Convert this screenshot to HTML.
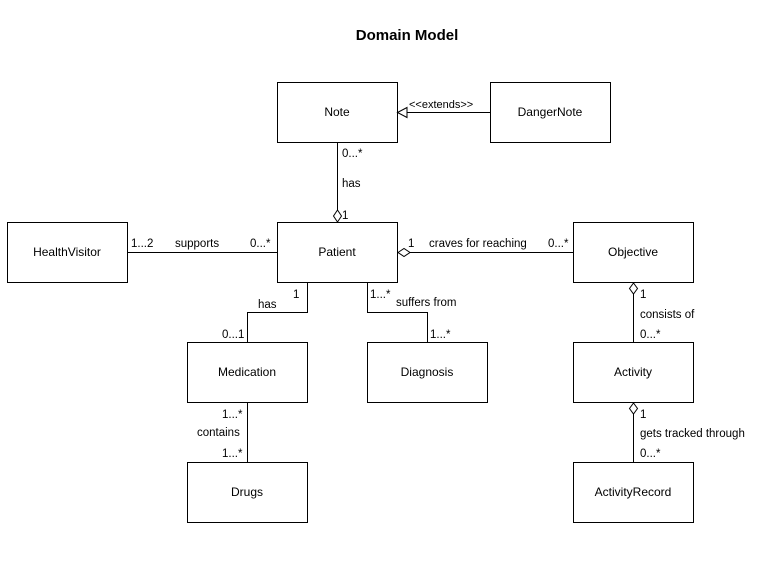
<!DOCTYPE html>
<html><head><meta charset="utf-8"><style>
html,body{margin:0;padding:0;background:#fff;}
svg{display:block;font-family:"Liberation Sans",Arial,sans-serif;}
</style></head><body>
<svg width="774" height="571" viewBox="0 0 774 571" xmlns="http://www.w3.org/2000/svg">
<rect width="774" height="571" fill="#fff"/>
<text x="407" y="40" text-anchor="middle" font-size="15" font-weight="bold">Domain Model</text>
<g fill="#fff" stroke="#000" stroke-width="1">
<rect x="277.5" y="82.5" width="120" height="60"/>
<rect x="490.5" y="82.5" width="120" height="60"/>
<rect x="7.5" y="222.5" width="120" height="60"/>
<rect x="277.5" y="222.5" width="120" height="60"/>
<rect x="573.5" y="222.5" width="120" height="60"/>
<rect x="187.5" y="342.5" width="120" height="60"/>
<rect x="367.5" y="342.5" width="120" height="60"/>
<rect x="573.5" y="342.5" width="120" height="60"/>
<rect x="187.5" y="462.5" width="120" height="60"/>
<rect x="573.5" y="462.5" width="120" height="60"/>
</g>
<g font-size="12" text-anchor="middle">
<text x="337" y="116">Note</text>
<text x="550" y="116">DangerNote</text>
<text x="67" y="256">HealthVisitor</text>
<text x="337" y="256">Patient</text>
<text x="633" y="256">Objective</text>
<text x="247" y="376">Medication</text>
<text x="427" y="376">Diagnosis</text>
<text x="633" y="376">Activity</text>
<text x="247" y="496">Drugs</text>
<text x="633" y="496">ActivityRecord</text>
</g>
<g stroke="#000" fill="none" stroke-width="1">
<path d="M490 112.5H406"/>
<path d="M397.5 112.5L407 107.5V117.5Z" fill="#fff"/>
<path d="M337.5 142V210"/>
<path d="M337.5 222L333.5 216L337.5 210L341.5 216Z" fill="#fff"/>
<path d="M127 252.5H277"/>
<path d="M410 252.5H573"/>
<path d="M398 252.5L404 248.5L410 252.5L404 256.5Z" fill="#fff"/>
<path d="M307.5 282V312.5H247.5V342"/>
<path d="M367.5 282V312.5H427.5V342"/>
<path d="M633.5 294V342"/>
<path d="M633.5 283L629.5 288.5L633.5 294L637.5 288.5Z" fill="#fff"/>
<path d="M633.5 414V462"/>
<path d="M633.5 403L629.5 408.5L633.5 414L637.5 408.5Z" fill="#fff"/>
<path d="M247.5 402V462"/>
</g>
<g font-size="11.5">
<text x="409" y="108" font-size="11">&lt;&lt;extends&gt;&gt;</text>
<text x="342" y="157">0...*</text>
<text x="342" y="187">has</text>
<text x="342" y="219">1</text>
<text x="131" y="247">1...2</text>
<text x="175" y="247">supports</text>
<text x="250" y="247">0...*</text>
<text x="408" y="247">1</text>
<text x="429" y="247">craves for reaching</text>
<text x="548" y="247">0...*</text>
<text x="293" y="298">1</text>
<text x="258" y="308">has</text>
<text x="222" y="338">0...1</text>
<text x="370" y="298">1...*</text>
<text x="396" y="306">suffers from</text>
<text x="430" y="338">1...*</text>
<text x="640" y="298">1</text>
<text x="640" y="318">consists of</text>
<text x="640" y="338">0...*</text>
<text x="222" y="418">1...*</text>
<text x="197" y="436">contains</text>
<text x="222" y="457">1...*</text>
<text x="640" y="418">1</text>
<text x="640" y="437">gets tracked through</text>
<text x="640" y="457">0...*</text>
</g>
</svg>
</body></html>
